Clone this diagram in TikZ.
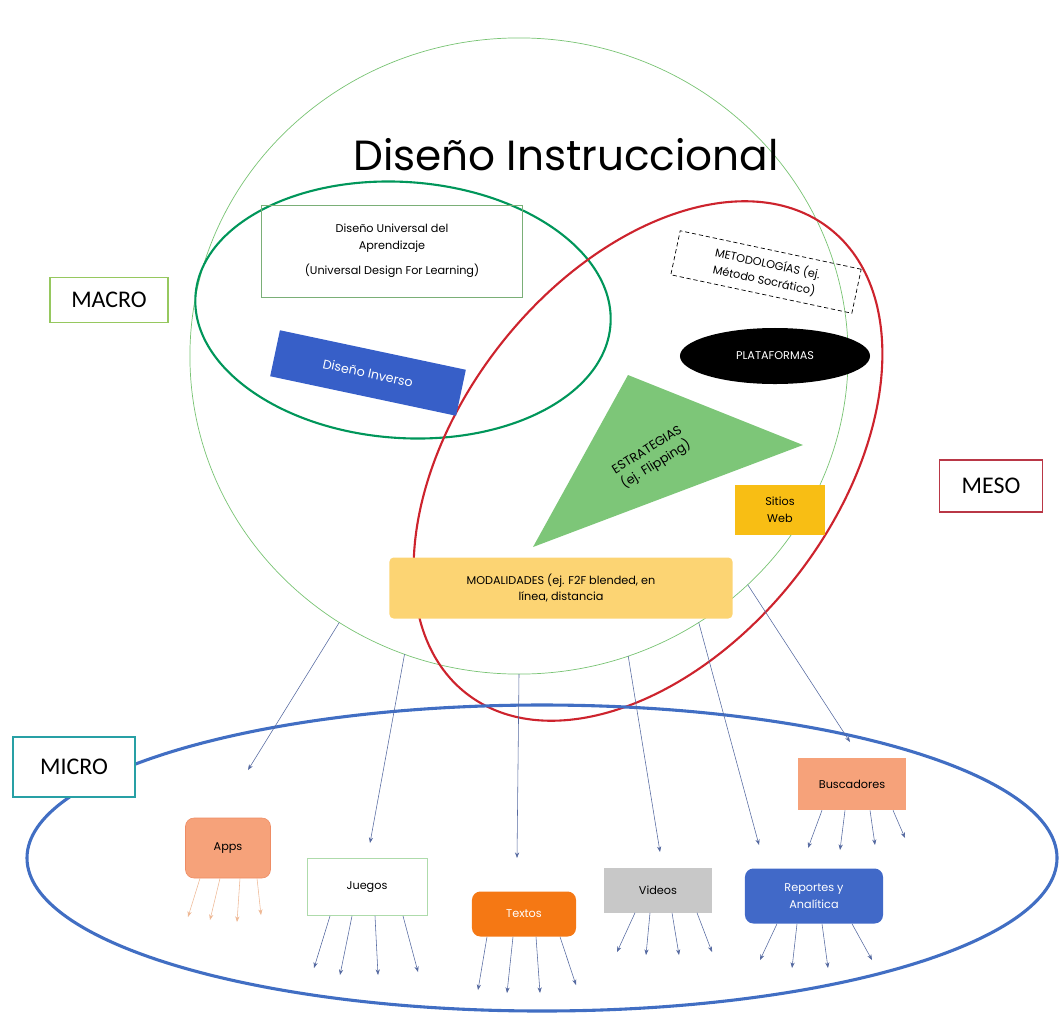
\documentclass[tikz,border=0pt]{standalone}
\usepackage{fontspec}
\setmainfont{Poppins}
\newfontfamily\labelfont{Carlito}
\usetikzlibrary{shapes.geometric, arrows.meta}

\definecolor{ringgreen}{RGB}{120,195,115}
\definecolor{macrogreen}{RGB}{0,150,90}
\definecolor{mesored}{RGB}{205,35,45}
\definecolor{microblue}{RGB}{65,110,195}
\definecolor{lblgreen}{RGB}{150,200,95}
\definecolor{lblred}{RGB}{185,55,70}
\definecolor{lblteal}{RGB}{40,160,165}
\definecolor{invblue}{RGB}{55,95,200}
\definecolor{trigreen}{RGB}{125,198,120}
\definecolor{sitiosyel}{RGB}{248,190,20}
\definecolor{modalyel}{RGB}{252,212,115}
\definecolor{salmon}{RGB}{246,162,122}
\definecolor{salmonline}{RGB}{238,140,100}
\definecolor{textorange}{RGB}{245,120,20}
\definecolor{vidgray}{RGB}{200,200,200}
\definecolor{repblue}{RGB}{65,105,200}
\definecolor{linkgray}{RGB}{85,105,160}
\definecolor{appsfan}{RGB}{238,185,150}

\begin{document}
\begin{tikzpicture}[
    x=0.025cm, y=-0.025cm,
    level/.style={draw, line width=1.3pt, fill=white, font=\labelfont\fontsize{17}{20}\selectfont},
    small/.style={font=\fontsize{8}{12}\selectfont, align=center, inner sep=2pt},
    link/.style={draw=linkgray, line width=0.4pt, -{Stealth[length=4pt, width=3pt]}},
    fan/.style={draw=linkgray, line width=0.4pt, -{Stealth[length=4pt, width=3pt]}},
    appsfan/.style={draw=appsfan, line width=0.4pt, -{Stealth[length=4pt, width=3pt]}}
]

\useasboundingbox (0,0) rectangle (1063,1019);

% Big circle and the two overlapping ellipses
\node[ellipse, draw=ringgreen, line width=0.5pt, inner sep=0pt, outer sep=0pt,
      minimum width=16.45cm, minimum height=15.9cm] (dis) at (519,356) {};
\draw[macrogreen, line width=1.5pt, rotate around={-4:(403,310)}]
    (403,310) ellipse [x radius=208, y radius=128];
\draw[mesored, line width=1.5pt, rotate around={52:(648,461)}]
    (648,461) ellipse [x radius=295, y radius=188];

% Micro ellipse
\draw[microblue, line width=2.2pt] (542,858) ellipse [x radius=515, y radius=153];

% Title
\node[font=\fontsize{30}{34}\selectfont] (title) at (566,155) {Diseño Instruccional};

% Level labels
\node[level, draw=lblgreen, minimum width=2.95cm, minimum height=1.125cm] (macro) at (109,300) {MACRO};
\node[level, draw=lblred, minimum width=2.575cm, minimum height=1.3cm] (meso) at (991,486) {MESO};
\node[level, draw=lblteal, minimum width=3.05cm, minimum height=1.5cm] (micro) at (74,767) {MICRO};

% Macro contents
\node[small, draw=ringgreen!70!gray, line width=0.4pt, minimum width=6.525cm, minimum height=2.3cm]
    (dua) at (392,251) {Diseño Universal del\\Aprendizaje\\[6pt](Universal Design For Learning)};
\node[small, fill=invblue, text=white, font=\fontsize{9}{11}\selectfont, rotate=-12,
      minimum width=4.75cm, minimum height=1.175cm] (inverso) at (368,373) {Diseño Inverso};

% Meso contents
\node[small, draw, densely dashed, line width=0.5pt, rotate=-12, minimum width=4.625cm, minimum height=1.125cm]
    (metod) at (766,272) {METODOLOGÍAS (ej.\\Método Socrático)};
\node[small, ellipse, fill=black, text=white, minimum width=4.75cm, minimum height=1.4cm]
    (plat) at (775,356) {PLATAFORMAS};
\fill[trigreen] (628,375) -- (803,445) -- (533,547) -- cycle;
\node[small, font=\fontsize{9}{12}\selectfont, rotate=32] (estrat) at (652,458) {ESTRATEGIAS\\(ej. Flipping)};
\node[small, fill=sitiosyel, minimum width=2.25cm, minimum height=1.25cm] (sitios) at (780,510) {Sitios\\Web};
\node[small, fill=modalyel, rounded corners=3pt, minimum width=8.575cm, minimum height=1.525cm]
    (modal) at (561,588) {MODALIDADES (ej. F2F blended, en\\línea, distancia};

% Micro contents
\node[small, fill=salmon, draw=salmonline, line width=0.4pt, rounded corners=6pt,
      minimum width=2.125cm, minimum height=1.5cm] (apps) at (228,848) {Apps};
\node[small, draw=ringgreen!60, line width=0.6pt, minimum width=3cm, minimum height=1.425cm]
    (juegos) at (367,887) {Juegos};
\node[small, fill=textorange, text=white, rounded corners=6pt, minimum width=2.6cm, minimum height=1.125cm]
    (textos) at (524,914) {Textos};
\node[small, fill=vidgray, minimum width=2.7cm, minimum height=1.125cm] (videos) at (658,890) {Videos};
\node[small, fill=repblue, text=white, rounded corners=6pt, minimum width=3.45cm, minimum height=1.375cm]
    (reportes) at (814,896) {Reportes y\\Analítica};
\node[small, fill=salmon, minimum width=2.7cm, minimum height=1.3cm] (busc) at (852,784) {Buscadores};

% Links from the big circle down to the micro level
\coordinate (e1) at (248,770);
\coordinate (e2) at (370,843);
\coordinate (e3) at (517,858);
\coordinate (e4) at (660,852);
\coordinate (e5) at (759,845);
\coordinate (e6) at (850,742);
\draw[link] (dis.-124.6) -- (e1);
\draw[link] (dis.-111.6) -- (e2);
\draw[link] (dis.-90.7) -- (e3);
\draw[link] (dis.-70.1) -- (e4);
\draw[link] (dis.-56.6) -- (e5);
\draw[link] (dis.-45.9) -- (e6);

% Fans under each micro box
\foreach \sx/\ex/\ey [count=\i] in {200/188/917, 220/210/920, 240/237/922, 257/261/915} {
    \coordinate (apps-\i) at (\ex,\ey);
    \draw[appsfan] (\sx,0 |- apps.south) -- (apps-\i);
}
\foreach \sx/\ex/\ey [count=\i] in {330/314/968, 352/340/975, 375/378/975, 403/418/972} {
    \coordinate (juegos-\i) at (\ex,\ey);
    \draw[fan] (\sx,0 |- juegos.south) -- (juegos-\i);
}
\foreach \sx/\ex/\ey [count=\i] in {487/478/990, 513/507/993, 536/540/993, 560/576/985} {
    \coordinate (textos-\i) at (\ex,\ey);
    \draw[fan] (\sx,0 |- textos.south) -- (textos-\i);
}
\foreach \sx/\ex/\ey [count=\i] in {635/617/952, 650/646/955, 672/679/955, 697/712/952} {
    \coordinate (videos-\i) at (\ex,\ey);
    \draw[fan] (\sx,0 |- videos.south) -- (videos-\i);
}
\foreach \sx/\ex/\ey [count=\i] in {822/808/848, 845/840/850, 870/875/845, 893/905/838} {
    \coordinate (busc-\i) at (\ex,\ey);
    \draw[fan] (\sx,0 |- busc.south) -- (busc-\i);
}
\foreach \sx/\ex/\ey [count=\i] in {777/760/960, 797/792/968, 822/828/968, 852/872/960} {
    \coordinate (reportes-\i) at (\ex,\ey);
    \draw[fan] (\sx,0 |- reportes.south) -- (reportes-\i);
}

\end{tikzpicture}
\end{document}
